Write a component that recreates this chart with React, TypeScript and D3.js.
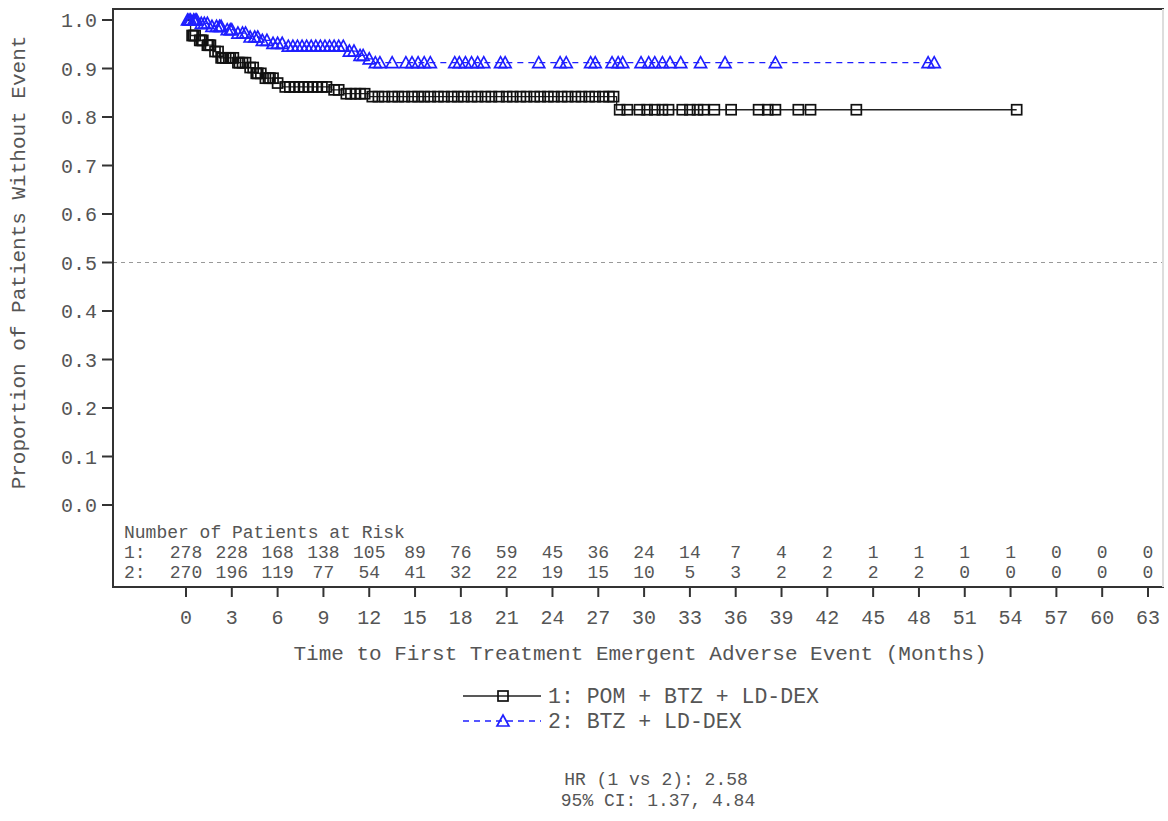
import React from 'react';
import * as d3 from 'd3';

// Kaplan-Meier step values
const g1Times = [0, 0.3, 0.8, 1.3, 1.8, 2.2, 3.3, 4.0, 4.5, 5.0, 5.8, 6.3, 9.5, 10.3, 12.0, 28.2];
const g1Surv = [1.0, 0.968, 0.958, 0.948, 0.935, 0.922, 0.912, 0.902, 0.89, 0.88, 0.87, 0.862, 0.856, 0.848, 0.842, 0.815];
const g1End = 54.4;
const g1Censor = [
  0.4, 0.5, 0.6, 0.9, 1.0, 1.1, 1.4, 1.5, 1.6, 1.9, 2.1, 2.3, 2.4, 2.6, 2.8, 2.9, 3.1, 3.4, 3.5,
  3.7, 3.9, 4.2, 4.4, 4.6, 4.7, 4.9, 5.2, 5.4, 5.5, 5.7, 6.0, 6.5, 6.8, 7.1, 7.4, 7.7, 8.0, 8.3,
  8.6, 8.9, 9.2, 9.7, 10.0, 10.5, 10.8, 11.1, 11.4, 11.7, 12.2, 12.6, 13.0, 13.5, 13.9, 14.3,
  14.8, 15.2, 15.6, 16.0, 16.5, 16.9, 17.4, 17.8, 18.2, 18.7, 19.1, 19.6, 20.0, 20.5, 21.0,
  21.4, 21.9, 22.3, 22.8, 23.2, 23.7, 24.1, 24.6, 25.0, 25.5, 25.9, 26.4, 26.8, 27.3, 27.7, 28.0,
  28.4, 28.9, 29.7, 30.2, 30.7, 31.2, 31.6, 32.5, 33.0, 33.5, 33.9, 34.6, 35.7, 37.5, 38.1,
  38.6, 40.1, 40.9, 43.9, 54.4,
];

const g2Times = [0, 0.8, 1.5, 2.5, 3.2, 4.0, 4.8, 5.5, 6.5, 10.5, 11.2, 11.8, 12.3];
const g2Surv = [1.0, 0.993, 0.987, 0.98, 0.973, 0.965, 0.958, 0.952, 0.946, 0.936, 0.927, 0.92, 0.912];
const g2End = 49.0;
const g2Censor = [
  0.1, 0.2, 0.3, 0.5, 0.6, 0.7, 1.0, 1.2, 1.4, 1.7, 2.0, 2.2, 2.3, 2.7, 2.9, 3.0, 3.4, 3.7,
  3.9, 4.2, 4.5, 4.7, 5.0, 5.3, 5.7, 6.0, 6.3, 6.7, 7.0, 7.3, 7.6, 7.9, 8.2, 8.5, 8.8, 9.1,
  9.4, 9.7, 10.0, 10.3, 10.7, 11.0, 11.4, 11.6, 12.0, 12.4, 12.7, 13.5, 14.4, 14.8, 15.2,
  15.6, 16.0, 17.6, 17.9, 18.3, 18.7, 19.1, 19.5, 20.6, 20.9, 23.1, 24.5, 24.9, 26.5, 26.8,
  27.9, 28.3, 28.6, 29.8, 30.3, 30.7, 31.2, 31.7, 32.4, 33.7, 35.3, 38.6, 48.6, 49.0,
];

const xTicks = d3.range(0, 64, 3);
const yTicks = d3.range(0, 11).map((d) => d / 10);
const risk1 = [278, 228, 168, 138, 105, 89, 76, 59, 45, 36, 24, 14, 7, 4, 2, 1, 1, 1, 1, 0, 0, 0];
const risk2 = [270, 196, 119, 77, 54, 41, 32, 22, 19, 15, 10, 5, 3, 2, 2, 2, 2, 0, 0, 0, 0, 0];

const BLUE = '#1f1fff';
const TXT = '#555';
const FONT = '"Liberation Mono", "Courier New", monospace';

const x = d3.scaleLinear().domain([0, 63]).range([186, 1148]);
const y = d3.scaleLinear().domain([0, 1]).range([505, 20]);

function survAt(times: number[], surv: number[], t: number) {
  const i = d3.bisectRight(times, t) - 1;
  return surv[Math.max(0, i)];
}

function stepPath(times: number[], surv: number[], end: number) {
  const pts: [number, number][] = times.map((t, i) => [t, surv[i]]);
  pts.push([end, surv[surv.length - 1]]);
  return d3.line<[number, number]>()
    .x((d) => x(d[0]))
    .y((d) => y(d[1]))
    .curve(d3.curveStepAfter)(pts) as string;
}

function Square({ cx, cy }: { cx: number; cy: number }) {
  return <rect x={cx - 5} y={cy - 5} width={10} height={10} fill="none" stroke="#111" strokeWidth={1.7} />;
}

function Tri({ cx, cy }: { cx: number; cy: number }) {
  return (
    <path d={`M${cx - 6},${cy + 5}L${cx},${cy - 6}L${cx + 6},${cy + 5}Z`} fill="none" stroke={BLUE} strokeWidth={1.7} />
  );
}

export default function App() {
  const left = 113, top = 9, right = 1163, bottom = 587;
  return (
    <svg width={1168} height={821} style={{ position: 'absolute', left: 0, top: 0, background: '#fff' }} fontFamily={FONT}>
      <rect x={0} y={0} width={1168} height={821} fill="#fff" />
      {/* reference line at 0.5 */}
      <line x1={left} x2={right} y1={y(0.5)} y2={y(0.5)} stroke="#999" strokeWidth={1.2} strokeDasharray="4,4" />

      {/* curves */}
      <path d={stepPath(g2Times, g2Surv, g2End)} fill="none" stroke={BLUE} strokeWidth={1.3} strokeDasharray="6,5" />
      <path d={stepPath(g1Times, g1Surv, g1End)} fill="none" stroke="#222" strokeWidth={1.3} />
      {g1Censor.map((t, i) => (
        <Square key={'s' + i} cx={x(t)} cy={y(survAt(g1Times, g1Surv, t))} />
      ))}
      {g2Censor.map((t, i) => (
        <Tri key={'t' + i} cx={x(t)} cy={y(survAt(g2Times, g2Surv, t))} />
      ))}

      {/* frame */}
      <rect x={left} y={top} width={right - left} height={bottom - top} fill="none" stroke="#333" strokeWidth={2} />
      <line x1={right} x2={right} y1={top} y2={bottom} stroke="#ddd" strokeWidth={2} />

      {/* y axis */}
      {yTicks.map((v) => (
        <g key={v}>
          <line x1={left - 11} x2={left} y1={y(v)} y2={y(v)} stroke="#333" strokeWidth={2} />
          <text x={97} y={y(v)} dy="0.35em" textAnchor="end" fontSize={20} fill={TXT}>
            {v.toFixed(1)}
          </text>
        </g>
      ))}
      <text transform={`translate(25,${y(0.5)}) rotate(-90)`} textAnchor="middle" fontSize={21} fill={TXT}>
        Proportion of Patients Without Event
      </text>

      {/* x axis */}
      {xTicks.map((v) => (
        <g key={v}>
          <line x1={x(v)} x2={x(v)} y1={bottom} y2={bottom + 10} stroke="#333" strokeWidth={2} />
          <text x={x(v)} y={624} textAnchor="middle" fontSize={20} fill={TXT}>
            {v}
          </text>
        </g>
      ))}
      <text x={640} y={660} textAnchor="middle" fontSize={21} fill={TXT}>
        Time to First Treatment Emergent Adverse Event (Months)
      </text>

      {/* at-risk table */}
      <text x={124} y={538} fontSize={18} fill={TXT}>Number of Patients at Risk</text>
      <text x={124} y={558} fontSize={18} fill={TXT}>1:</text>
      <text x={124} y={578} fontSize={18} fill={TXT}>2:</text>
      {xTicks.map((v, i) => (
        <g key={'r' + v}>
          <text x={x(v)} y={558} textAnchor="middle" fontSize={18} fill={TXT}>{risk1[i]}</text>
          <text x={x(v)} y={578} textAnchor="middle" fontSize={18} fill={TXT}>{risk2[i]}</text>
        </g>
      ))}

      {/* legend */}
      <line x1={463} x2={541} y1={696} y2={696} stroke="#222" strokeWidth={1.5} />
      <Square cx={503} cy={696} />
      <text x={548} y={703} fontSize={21.5} fill={TXT}>1: POM + BTZ + LD-DEX</text>
      <line x1={463} x2={541} y1={721} y2={721} stroke={BLUE} strokeWidth={1.5} strokeDasharray="6,5" />
      <Tri cx={503} cy={721} />
      <text x={548} y={728} fontSize={21.5} fill={TXT}>2: BTZ + LD-DEX</text>

      {/* hazard ratio */}
      <text x={656} y={785} textAnchor="middle" fontSize={18} fill={TXT}>HR (1 vs 2): 2.58</text>
      <text x={658} y={806} textAnchor="middle" fontSize={18} fill={TXT}>95% CI: 1.37, 4.84</text>
    </svg>
  );
}
